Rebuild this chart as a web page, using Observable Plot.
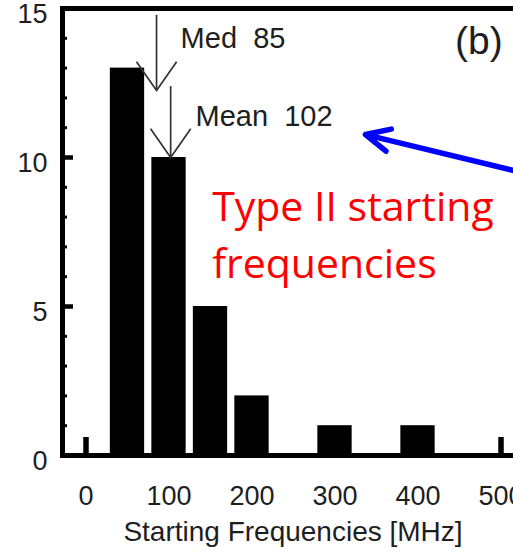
<!DOCTYPE html>
<html>
<head>
<meta charset="utf-8">
<script src="https://cdn.jsdelivr.net/npm/d3@7"></script>
<script src="https://cdn.jsdelivr.net/npm/@observablehq/plot@0.6"></script>
<style>
  html, body { margin: 0; padding: 0; background: #fff; overflow: hidden; }
  #chart svg { display: block; overflow: hidden; }
</style>
</head>
<body>
<div id="chart"></div>
<script>
// Histogram of type II burst starting frequencies, 50 MHz bins
const binCenters = [50, 100, 150, 200, 250, 300, 350, 400, 450];
const counts     = [13, 10, 5, 2, 0, 1, 0, 1, 0];
const binWidth = 50;

const xTicks = [0, 100, 200, 300, 400, 500];
const yTicks = [0, 5, 10, 15];
const yMinorTicks = d3.range(0, 16);

const medianFreq = 85;
const meanFreq = 102;

const xLabel = "Starting Frequencies [MHz]";
const panelLabel = "(b)";
const noteText = "Type II starting\nfrequencies";

// annotation anchors, in data units (MHz, count)
const statArrows = [
  {x: medianFreq, top: 14.77, tip: 12.25},
  {x: meanFreq,   top: 12.38, tip: counts[binCenters.indexOf(100)]}
];
const statLabels = [
  {text: `Med  ${medianFreq}`, x: 114, y: 13.66},
  {text: `Mean  ${meanFreq}`, x: 132, y: 11.07}
];
const panelAnchor = [{text: panelLabel, x: 502, y: 13.46}];
const noteAnchor = [{text: noteText, x: 152, y: 5.97}];
const pointer = [{x1: 572, y1: 9.18, x2: 336.7, y2: 10.77}];

const bins = binCenters.map((c, i) => ({x0: c - binWidth / 2, x1: c + binWidth / 2, count: counts[i]}));

// open "V" arrowhead, tip at the origin, wings rising up-left and up-right
const vHead = {
  draw(context, size) {
    const r = Math.sqrt(size / Math.PI);
    const a = 35 * Math.PI / 180;
    context.moveTo(-r * Math.sin(a), -r * Math.cos(a));
    context.lineTo(0, 0);
    context.lineTo(r * Math.sin(a), -r * Math.cos(a));
  }
};

const ink = "#1e1e1e";

const chart = Plot.plot({
  width: 513,
  height: 555,
  marginLeft: 62,
  marginRight: -10,
  marginTop: 8,
  marginBottom: 100,
  style: {fontFamily: "'Liberation Sans', Arial, Helvetica, sans-serif", background: "white", color: "black"},
  x: {domain: [-28.3, 527.1], nice: false},
  y: {domain: [0, 15], nice: false},
  marks: [
    // tick marks pointing into the plot
    Plot.axisY(yMinorTicks, {tickSize: -5, strokeWidth: 3, stroke: "black", tickFormat: () => "", label: null}),
    Plot.axisY(yTicks, {tickSize: -11, strokeWidth: 4.5, stroke: "black", tickFormat: () => "", label: null}),
    Plot.axisX(xTicks, {tickSize: -18, strokeWidth: 5.5, stroke: "black", tickFormat: () => "", label: null}),
    // tick labels
    Plot.axisY(yTicks, {tickSize: 0, tickPadding: 15, fontSize: 27, fill: ink, dy: 6, label: null}),
    Plot.axisX(xTicks, {tickSize: 0, tickPadding: 30, fontSize: 27, fill: ink, label: null}),
    // histogram bars
    Plot.rectY(bins, {x1: "x0", x2: "x1", y: "count", insetLeft: 3.6, insetRight: 3.6, fill: "black"}),
    Plot.frame({stroke: "black", strokeWidth: 5}),
    // median / mean arrows
    Plot.ruleX(statArrows, {x: "x", y1: "top", y2: "tip", stroke: "#333", strokeWidth: 1.7}),
    Plot.dot(statArrows, {x: "x", y: "tip", symbol: vHead, r: 35, fill: "none", stroke: "#333", strokeWidth: 1.7}),
    Plot.text(statLabels, {x: "x", y: "y", text: "text", textAnchor: "start", lineAnchor: "bottom", fontSize: 29, fill: ink}),
    Plot.text(panelAnchor, {x: "x", y: "y", text: "text", textAnchor: "end", lineAnchor: "bottom", fontSize: 39, fill: ink}),
    // x axis title
    Plot.text([xLabel], {frameAnchor: "bottom", dy: 85, lineAnchor: "bottom", fontSize: 28, fill: ink}),
    // red note and blue pointer
    Plot.text(noteAnchor, {x: "x", y: "y", text: "text", textAnchor: "start", lineAnchor: "bottom", lineHeight: 1.39,
      fontSize: 41, fontFamily: "'Open Sans', 'Noto Sans', sans-serif", fill: "#ff0000"}),
    Plot.arrow(pointer, {x1: "x1", y1: "y1", x2: "x2", y2: "y2", stroke: "#0000ff", strokeWidth: 5.5,
      headLength: 7.2, headAngle: 51, strokeLinecap: "round", strokeLinejoin: "round"})
  ]
});

document.getElementById("chart").appendChild(chart);
</script>
</body>
</html>
